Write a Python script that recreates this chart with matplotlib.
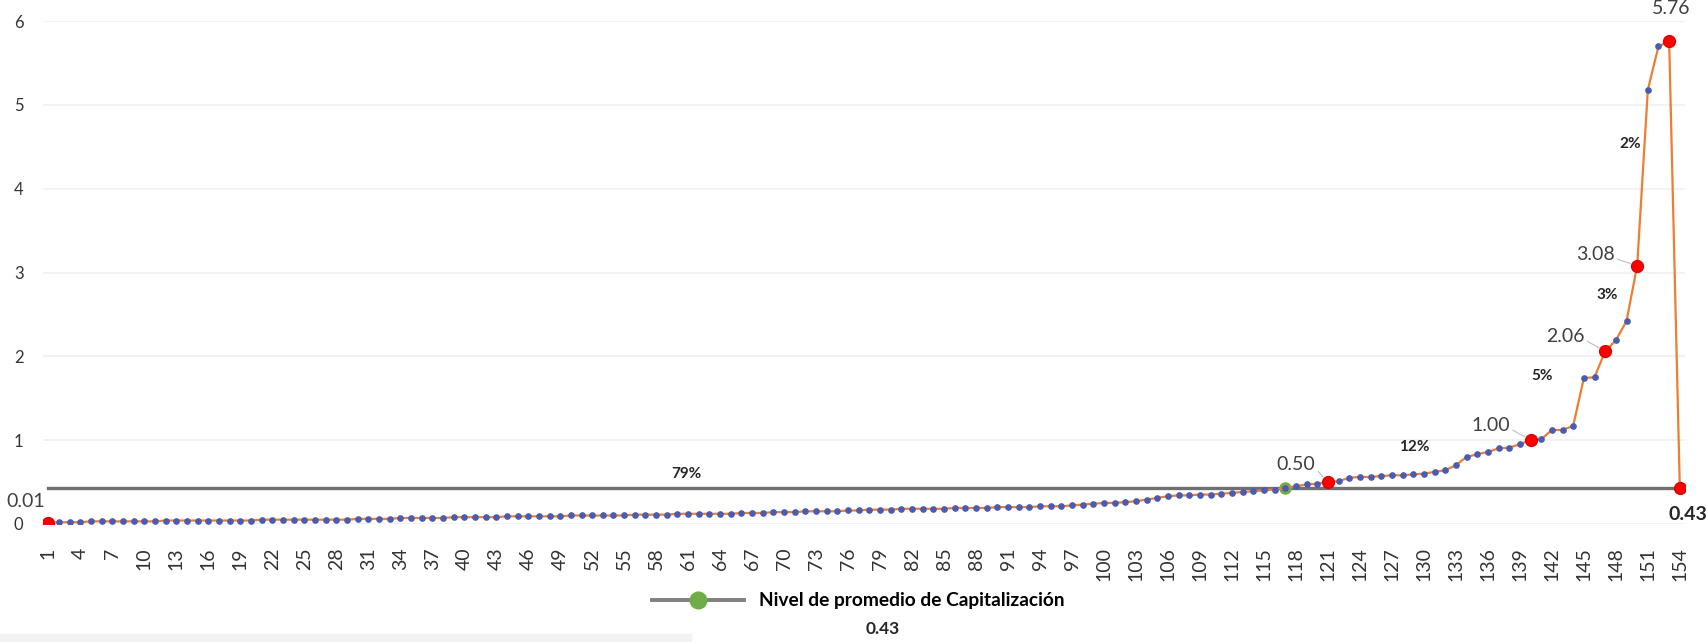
import numpy as np
import matplotlib.pyplot as plt
from matplotlib.lines import Line2D
from matplotlib.patches import Rectangle

# Nivel de capitalización por entidad (ordenado), último punto = promedio
valores = [
    0.01, 0.02, 0.02, 0.02, 0.03, 0.03, 0.03, 0.03, 0.03, 0.03,
    0.03, 0.04, 0.04, 0.04, 0.04, 0.04, 0.04, 0.04, 0.04, 0.04,
    0.05, 0.05, 0.05, 0.05, 0.05, 0.05, 0.05, 0.05, 0.05, 0.06,
    0.06, 0.06, 0.06, 0.07, 0.07, 0.07, 0.07, 0.07, 0.08, 0.08,
    0.08, 0.08, 0.08, 0.09, 0.09, 0.09, 0.09, 0.09, 0.09, 0.10,
    0.10, 0.10, 0.10, 0.10, 0.10, 0.11, 0.11, 0.11, 0.11, 0.12,
    0.12, 0.12, 0.12, 0.12, 0.12, 0.13, 0.13, 0.13, 0.14, 0.14,
    0.14, 0.15, 0.15, 0.15, 0.15, 0.16, 0.16, 0.17, 0.17, 0.17,
    0.18, 0.18, 0.18, 0.18, 0.18, 0.19, 0.19, 0.19, 0.19, 0.20,
    0.20, 0.20, 0.20, 0.21, 0.21, 0.21, 0.22, 0.23, 0.24, 0.25,
    0.25, 0.26, 0.27, 0.29, 0.31, 0.33, 0.34, 0.34, 0.35, 0.35,
    0.36, 0.37, 0.38, 0.39, 0.40, 0.41, 0.43, 0.45, 0.47, 0.48,
    0.50, 0.51, 0.55, 0.56, 0.56, 0.57, 0.58, 0.58, 0.59, 0.60,
    0.62, 0.64, 0.70, 0.80, 0.83, 0.86, 0.90, 0.91, 0.95, 1.00,
    1.01, 1.12, 1.12, 1.17, 1.74, 1.75, 2.06, 2.19, 2.42, 3.08,
    5.18, 5.70, 5.76, 0.43,
]
promedio = 0.43
punto_promedio = 117                           # donde la curva cruza el promedio
destacados = [1, 121, 140, 147, 150, 153, 154]  # puntos en rojo con etiqueta
porcentajes = ['79%', '12%', '5%', '3%', '2%']
pos_porcentajes = [(60.8, 0.60), (129.1, 0.92), (141.1, 1.76), (147.2, 2.73), (149.3, 4.54)]

x = np.arange(1, len(valores) + 1)
y = np.array(valores)

plt.rcParams['font.family'] = ['Lato', 'DejaVu Sans']

fig = plt.figure(figsize=(17.07, 6.42), dpi=100)
ax = fig.add_axes([0.0252, 0.184, 0.962, 0.783])

# línea de promedio
ax.plot(x, np.full(len(x), promedio), color='#707070', lw=2.4, zorder=2,
        marker='o', markevery=[punto_promedio - 1], markersize=8,
        markerfacecolor='#70ad47', markeredgecolor='#70ad47')

# curva principal
ax.plot(x, y, color='#ed7d31', lw=1.6, zorder=3)
ax.plot(x, y, ls='none', marker='o', markersize=3.8,
        markerfacecolor='#4a5cb0', markeredgecolor='#4a5cb0', zorder=4)

# puntos destacados
idx = np.array(destacados) - 1
ax.plot(x[idx], y[idx], ls='none', marker='o', markersize=8.5,
        markerfacecolor='#ff0000', markeredgecolor='#e00000', zorder=5)

# etiquetas de los destacados
offsets = {1: (-23, 22), 121: (-32, 17), 140: (-40, 15), 147: (-40, 15),
           150: (-42, 11), 153: (2, 33)}
for p, (dx, dy) in offsets.items():
    kw = {}
    if p not in (1, 153):
        kw['arrowprops'] = dict(arrowstyle='-', color='#bfbfbf', lw=0.8,
                                shrinkA=0, shrinkB=5, relpos=(1.0, 0.3))
    ax.annotate(f'{valores[p - 1]:.2f}', xy=(p, valores[p - 1]),
                xytext=(dx, dy), textcoords='offset pixels',
                ha='center', va='center', fontsize=14, color='#404040',
                annotation_clip=False, **kw)
ax.annotate(f'{valores[-1]:.2f}', xy=(154, valores[-1]), xytext=(8, -27),
            textcoords='offset pixels', ha='center', va='center',
            fontsize=14, fontweight='bold', color='#262626', annotation_clip=False)

for txt, (px, py) in zip(porcentajes, pos_porcentajes):
    ax.text(px, py, txt, ha='center', va='center', fontsize=11,
            fontweight='bold', color='#262626')

# ejes
ax.set_xlim(0.5, len(valores) + 0.5)
ax.set_ylim(0, 6)
ax.set_yticks(range(0, 7))
ax.set_xticks(x[::3])
ax.set_xticklabels([str(v) for v in x[::3]], rotation=90)
ax.tick_params(axis='x', length=0, pad=17, labelsize=14, colors='#333333')
ax.tick_params(axis='y', length=0, pad=14, labelsize=12, colors='#333333')
ax.grid(axis='y', color='#f0f0f0', lw=1.2, zorder=0)
for s in ax.spines.values():
    s.set_visible(False)

# leyenda
handle = Line2D([0], [0], color='#808080', lw=2.8, marker='o', markersize=12,
                markerfacecolor='#70ad47', markeredgecolor='#70ad47')
leg = fig.legend([handle], ['Nivel de promedio de Capitalización'],
                 loc='center', bbox_to_anchor=(0.503, 0.064), frameon=False,
                 handlelength=4.8, handletextpad=0.8,
                 prop={'weight': 'bold', 'size': 13.8})
fig.text(0.517, 0.02, f'{promedio:.2f}', ha='center', va='center',
         fontsize=12.5, fontweight='bold', color='#262626')

# franja gris recortada en la esquina inferior
fig.patches.append(Rectangle((0, 0), 0.405, 0.012, transform=fig.transFigure,
                             color='#f2f2f2', zorder=0))

fig.savefig('out.png', dpi=100)
